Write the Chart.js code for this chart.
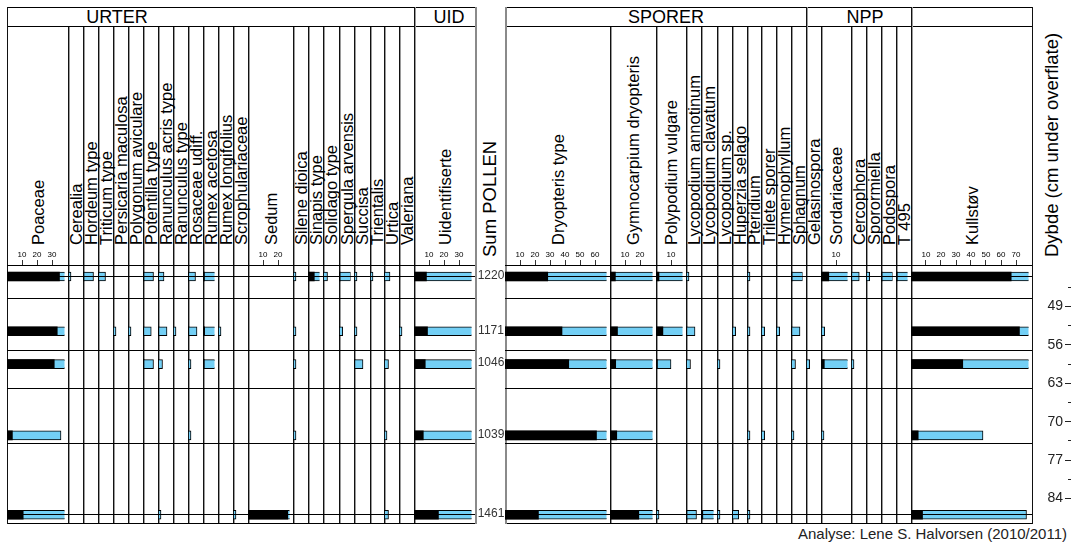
<!DOCTYPE html>
<html><head><meta charset="utf-8">
<script src="https://cdn.jsdelivr.net/npm/chart.js@4"></script>
<style>
html,body{margin:0;padding:0;background:#fff;overflow:hidden;width:1071px;height:544px}
#root{position:relative;width:1071px;height:544px;font-family:"Liberation Sans",Arial,sans-serif;color:#000;overflow:hidden}
#root div{position:absolute}
.lbl{white-space:nowrap;transform-origin:0 0;transform:rotate(-90deg);font-size:16.5px;line-height:16px}
.big{font-size:18.5px;line-height:18px}
.grp{font-size:18px;line-height:18px;text-align:center;width:140px}
canvas{position:absolute}
</style></head>
<body><div id="root"></div>
<script>
// ---------- data ----------
const depths     = [43.5, 53.5, 59.5, 72.5, 87.0];
const sumPollen  = [1220, 1171, 1046, 1039, 1461];
const zoneLines  = [43.5, 47.5, 57, 64, 74, 87];
const depthLabels = [49, 56, 63, 70, 77, 84];
const depthMinor  = [45.5, 52.5, 59.5, 66.5, 73.5, 80.5];
const scaleTicks  = [10, 20, 30, 40, 50, 60, 70];
const EXAG = 10;
const DEPTH_MIN = 41.4, DEPTH_MAX = 88.5;

const urterTaxa = ['Poaceae','Cerealia','Hordeum type','Triticum type','Persicaria maculosa','Polygonum aviculare','Potentilla type','Ranunculus acris type','Ranunculus type','Rosaceae udiff.','Rumex acetosa','Rumex longifolius','Scrophulariaceae','Sedum','Silene dioica','Sinapis type','Solidago type','Spergula arvensis','Succisa','Trientalis','Urtica','Valeriana'];
const urterPct = [
  [35.0,33.5,31.5,3.6,10.8],
  [0.2,0,0,0,0],
  [0.7,0,0,0,0],
  [0.5,0,0,0,0],
  [0,0.2,0,0,0],
  [0,0.2,0,0,0],
  [0.7,0.55,0.7,0,0],
  [0.4,0.6,0.3,0,0.2],
  [0,0.2,0,0,0],
  [0.5,0.6,0.2,0.2,0],
  [1.0,1.1,0.9,0,0],
  [0,0.2,0,0,0],
  [0,0,0,0,0.2],
  [0,0,0,0,26.5],
  [0.2,0.2,0.2,0.2,0],
  [4.2,0,0,0,0],
  [0.3,0,0,0,0],
  [0.8,0.25,0,0,0],
  [0.2,0.2,0.6,0,0],
  [0.2,0,0,0,0],
  [0.4,0,0.3,0.2,0.3],
  [0,0.2,0,0,0]
];
const uidTaxa = ['Uidentifiserte'];
const uidPct = [[8.3,9.0,7.5,6.2,16.3]];
const sporerTaxa = ['Dryopteris type','Gymnocarpium dryopteris','Polypodium vulgare','Lycopodium annotinum','Lycopodium clavatum','Lycopodium sp.','Huperzia selago','Pteridium','Trilete sporer','Hymenophyllum','Sphagnum'];
const sporerPct = [
  [28.5,38.0,42.5,61.0,22.3],
  [3.6,5.0,3.8,4.5,19.2],
  [2.0,4.6,1.0,0,0.2],
  [0.2,0.6,0.3,0,0.7],
  [0,0,0,0,1.2],
  [0,0,0.2,0,0.2],
  [0,0.25,0,0,0.45],
  [0.2,0.2,0,0.2,0.2],
  [0,0.25,0,0.25,0],
  [0,0.25,0,0,0],
  [0.8,0.6,0.3,0.2,0]
];
const nppTaxa = ['Gelasinospora','Sordariaceae','Cercophora','Sporormiella','Podospora','T 495'];
const nppPct = [
  [0,0,0.25,0,0],
  [5.2,0.25,2.2,0.2,0],
  [0.55,0,0.2,0,0],
  [0.25,0,0,0,0],
  [0.8,0,0,0,0],
  [0.9,0,0,0,0]
];
const kullTaxa = ['Kullstøv'];
const kullPct = [[66.8,72.3,34.5,4.8,7.7]];

// ---------- layout (pixels) ----------
const urterW  = [61,15,15,15,15,15,15,15,15,15,15,15,15,45,15,15,16,15,16,14,15,15];
const uidW    = [61];
const sumW    = 30;
const sporerW = [105,46,30,15,16,15,15,14,15,15,15];
const nppW    = [15,30,15,15,15,15];
const kullW   = [121];
const PX_PER_PCT = 1.5;
const X0 = 7, TOP = 7, GROW = 26, PLOT_TOP = 265, PLOT_BOT = 523, AX_H = 17, LABEL_BASE = 245;
const BLUE = '#73CFF5';
const FONT = '"Liberation Sans", Arial, sans-serif';
Chart.defaults.font.family = FONT;

const root = document.getElementById('root');
function box(css, cls, text) {
  const d = document.createElement('div');
  if (cls) d.className = cls;
  d.style.cssText += css;
  if (text !== undefined) d.textContent = text;
  root.appendChild(d);
  return d;
}
function hline(x1, x2, y) { box(`left:${x1}px;top:${y}px;width:${x2-x1}px;height:1px;background:#000`); }
function vline(x, y1, y2, kind) {
  if (kind === 'gray') { box(`left:${x}px;top:${y1}px;width:2px;height:${y2-y1}px;background:#8a8a8a`); return; }
  box(`left:${x}px;top:${y1}px;width:1px;height:${y2-y1}px;background:#111`);
  if (kind === 'div') box(`left:${x+1}px;top:${y1}px;width:1px;height:${y2-y1}px;background:#9a9a9a`);
}
function noPad(ax) { ax.paddingTop = 0; ax.paddingBottom = 0; ax.paddingLeft = 0; ax.paddingRight = 0; }

// build column list
const groups = [
  {name:'URTER', cx:117, taxa:urterTaxa, pct:urterPct, w:urterW},
  {name:'UID', cx:449, taxa:uidTaxa, pct:uidPct, w:uidW},
  {name:'', sum:true},
  {name:'SPORER', cx:666, taxa:sporerTaxa, pct:sporerPct, w:sporerW},
  {name:'NPP', cx:865, taxa:nppTaxa, pct:nppPct, w:nppW},
  {name:'', taxa:kullTaxa, pct:kullPct, w:kullW}
];
const cols = [];
let x = X0, sumX = 0;
groups.forEach(g => {
  g.x0 = x;
  if (g.sum) { sumX = x; x += sumW; g.x1 = x; return; }
  g.taxa.forEach((t, i) => { cols.push({name:t, pct:g.pct[i], w:g.w[i], x:x, first:i===0}); x += g.w[i]; });
  g.x1 = x;
});
const RIGHT = x;

// frame lines
[TOP, GROW, PLOT_BOT].forEach(y => { hline(X0, sumX, y); hline(sumX + sumW, RIGHT + 1, y); });
vline(X0, TOP, PLOT_BOT + 1, 'black');
vline(RIGHT, TOP, PLOT_BOT + 1, 'black');
vline(sumX, TOP, PLOT_BOT + 1, 'gray');
vline(sumX + sumW, TOP, PLOT_BOT + 1, 'gray');
cols.forEach(c => {
  if (c.x === X0 || c.x === sumX + sumW) return;
  vline(c.x, c.first ? TOP : GROW + 1, PLOT_BOT, 'div');
});

// group labels
groups.forEach(g => { if (g.name) box(`left:${g.cx-70}px;top:8px`, 'grp', g.name); });

// taxon labels (rotated)
cols.forEach(c => {
  box(`left:${c.x + c.w/2 - 8}px;top:${LABEL_BASE}px`, 'lbl', c.name);
});
box(`left:481px;top:257px`, 'lbl big', 'Sum POLLEN');
box(`left:1043px;top:257px`, 'lbl big', 'Dybde (cm under overflate)');
box(`right:4px;top:526px;font-size:15px;line-height:15px;color:#222;white-space:nowrap`, '', 'Analyse: Lene S. Halvorsen (2010/2011)');

function makeCanvas(left, w) {
  const cv = document.createElement('canvas');
  cv.width = w; cv.height = PLOT_BOT - PLOT_TOP + AX_H;
  cv.style.left = left + 'px'; cv.style.top = (PLOT_TOP - AX_H) + 'px';
  cv.style.width = w + 'px'; cv.style.height = cv.height + 'px';
  root.appendChild(cv);
  return cv;
}
const base = {
  responsive:false, animation:false, events:[], devicePixelRatio:1,
  plugins:{legend:{display:false}, tooltip:{enabled:false}}
};

// taxon columns
cols.forEach(c => {
  const cv = makeCanvas(c.x, c.w);
  const ticks = scaleTicks.filter(v => v * PX_PER_PCT <= c.w - 4);
  const clip = {left:0, top:0, right:-3.5, bottom:0};
  new Chart(cv, {
    type:'bar',
    data:{datasets:[
      {data: depths.map((d,i) => ({x: c.pct[i] ? c.pct[i] : null, y: d})),
       backgroundColor:'#000', borderWidth:0, order:0, clip},
      {data: depths.map((d,i) => ({x: c.pct[i] ? c.pct[i] * EXAG : null, y: d})),
       backgroundColor:BLUE, borderColor:'#000', borderWidth:1, borderSkipped:false, order:1, clip}
    ]},
    options:Object.assign({}, base, {
      indexAxis:'y',
      layout:{padding:0, autoPadding:false},
      datasets:{bar:{barThickness:9, grouped:false}},
      scales:{
        x:{type:'linear', position:'top', min:0, max:c.w / PX_PER_PCT, offset:false,
           afterBuildTicks: ax => { ax.ticks = ticks.map(v => ({value:v})); },
           afterFit: ax => { ax.height = AX_H; noPad(ax); },
           border:{display:true, color:'#000', width:1},
           grid:{drawOnChartArea:false, drawTicks:ticks.length > 0, tickLength:5, color:'#333'},
           ticks:{display:ticks.length > 0, autoSkip:false, maxRotation:0, padding:0, color:'#000', font:{size:8}}},
        y:{type:'linear', reverse:true, min:DEPTH_MIN, max:DEPTH_MAX, offset:false,
           afterBuildTicks: ax => { ax.ticks = zoneLines.map(v => ({value:v})); },
           afterFit: ax => { ax.width = 0; noPad(ax); },
           ticks:{display:false}, border:{display:false},
           grid:{color:'#000', lineWidth:1, drawTicks:false, z:1, offset:false}}
      }
    })
  });
});

// Sum POLLEN column
const sumPlugin = {
  id:'sumLabels',
  afterDatasetsDraw(chart) {
    const ctx = chart.ctx, ys = chart.scales.y, a = chart.chartArea;
    ctx.save();
    ctx.font = '12px ' + FONT; ctx.fillStyle = '#333';
    ctx.textAlign = 'center'; ctx.textBaseline = 'middle';
    depths.forEach((d, i) => ctx.fillText(String(sumPollen[i]), (a.left + a.right) / 2 + 1, ys.getPixelForValue(d) - 1));
    ctx.restore();
  }
};
new Chart(makeCanvas(sumX, sumW), {
  type:'scatter', data:{datasets:[]}, plugins:[sumPlugin],
  options:Object.assign({}, base, {
    layout:{padding:{top:AX_H}, autoPadding:false},
    scales:{x:{display:false, min:0, max:1}, y:{display:false, reverse:true, min:DEPTH_MIN, max:DEPTH_MAX}}
  })
});

// Depth axis
new Chart(makeCanvas(1035, 45), {
  type:'scatter', data:{datasets:[]},
  options:Object.assign({}, base, {
    layout:{padding:{top:AX_H, left:0, right:0, bottom:0}, autoPadding:false},
    scales:{
      x:{display:false, min:0, max:1},
      yMajor:{type:'linear', position:'left', weight:1, reverse:true, min:DEPTH_MIN, max:DEPTH_MAX,
        afterBuildTicks: ax => { ax.ticks = depthLabels.map(v => ({value:v})); },
        afterFit: ax => { ax.width = 33; noPad(ax); },
        border:{display:false},
        grid:{drawOnChartArea:false, drawTicks:true, tickLength:3, color:'#222'},
        ticks:{padding:2, color:'#222', font:{size:14}}},
      yMinor:{type:'linear', position:'left', weight:0, reverse:true, min:DEPTH_MIN, max:DEPTH_MAX,
        afterBuildTicks: ax => { ax.ticks = depthMinor.concat(depthLabels).map(v => ({value:v})); },
        afterFit: ax => { ax.width = 3; noPad(ax); },
        border:{display:false},
        grid:{drawOnChartArea:false, drawTicks:true, tickLength:3, color:'#222'},
        ticks:{display:false}}
    }
  })
});
</script>
</body></html>
